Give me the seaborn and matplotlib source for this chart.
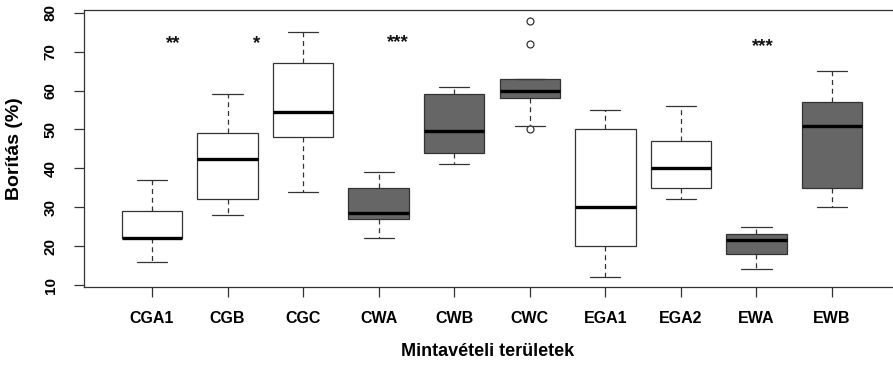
import numpy as np
import pandas as pd
import matplotlib
matplotlib.use("Agg")
import matplotlib.pyplot as plt
import seaborn as sns

# ---- data ----
sites = ["CGA1", "CGB", "CGC", "CWA", "CWB", "CWC", "EGA1", "EGA2", "EWA", "EWB"]
cga1 = [16, 22, 22, 29, 37]
cgb = [28, 32, 42.5, 49, 59]
cgc = [34, 48, 54.5, 67, 75]
cwa = [22, 27, 28.5, 35, 39]
cwb = [41, 44, 49.5, 59, 61]
cwc = [50, 51, 58, 59, 60, 61, 63, 72, 78]
ega1 = [12, 20, 30, 50, 55]
ega2 = [32, 35, 40, 47, 56]
ewa = [14, 18, 21.5, 23, 25]
ewb = [30, 35, 51, 57, 65]
values = [cga1, cgb, cgc, cwa, cwb, cwc, ega1, ega2, ewa, ewb]
fills = ["white", "white", "white", "#666666", "#666666", "#666666",
         "white", "white", "#666666", "#666666"]
signif = ["**", "*", "", "***", "", "", "", "", "***", ""]
yticks = [10, 20, 30, 40, 50, 60, 70, 80]

df = pd.DataFrame({
    "site": [s for s, v in zip(sites, values) for _ in v],
    "value": [x for v in values for x in v],
})

sns.set_style("white")
plt.rcParams["font.family"] = ["Liberation Sans", "DejaVu Sans"]
plt.rcParams["font.weight"] = "bold"
plt.rcParams["text.color"] = "black"
plt.rcParams["axes.labelcolor"] = "black"
plt.rcParams["xtick.color"] = "black"
plt.rcParams["ytick.color"] = "black"

fig = plt.figure(figsize=(8.93, 3.65), dpi=100)
ax = fig.add_axes([84 / 893, 78 / 365, 816 / 893, 277 / 365])

edge = "#333333"
sns.boxplot(
    data=df, x="site", y="value", hue="site", order=sites, hue_order=sites,
    palette=dict(zip(sites, fills)), legend=False, saturation=1,
    width=0.8, linecolor=edge, linewidth=0.9, whis=1.5, fliersize=5,
    whiskerprops={"linestyle": (0, (4, 3))},
    medianprops={"color": "black", "linewidth": 2.4},
    flierprops={"marker": "o", "markerfacecolor": "white",
                "markeredgecolor": edge, "markeredgewidth": 0.9},
    ax=ax,
)

# significance markers
star_pos = {0: (0.28, 72.0), 1: (0.38, 72.0), 3: (0.25, 72.2), 8: (0.09, 71.2)}
for i, s in enumerate(signif):
    if s:
        dx, y = star_pos[i]
        ax.text(i + dx, y, s, ha="center", va="center", fontsize=13.5,
                fontweight="bold", color="#111111")

ax.set_xlim(-0.9, 9.9)
ax.set_ylim(9.5, 80.7)
ax.set_yticks(yticks)
ax.set_yticklabels([str(t) for t in yticks], rotation=90, va="center",
                   fontsize=11, fontweight="bold")
ax.set_xticks(range(len(sites)))
ax.set_xticklabels(sites, fontsize=11.5, fontweight="bold")
ax.tick_params(axis="x", length=7, width=0.9, color=edge, pad=10, bottom=True)
ax.tick_params(axis="y", length=7, width=0.9, color=edge, pad=12, left=True)
for sp in ax.spines.values():
    sp.set_visible(True)
    sp.set_color(edge)
    sp.set_linewidth(0.9)

ax.set_xlabel("Mintavételi területek", fontsize=13, fontweight="bold")
ax.set_ylabel("Borítás (%)", fontsize=14, fontweight="bold")
ax.xaxis.set_label_coords((488 - 84) / 816, (287 - 343) / 277)
ax.yaxis.set_label_coords((23 - 84) / 816, 0.5)

fig.savefig("out.png", dpi=100, facecolor="white")
